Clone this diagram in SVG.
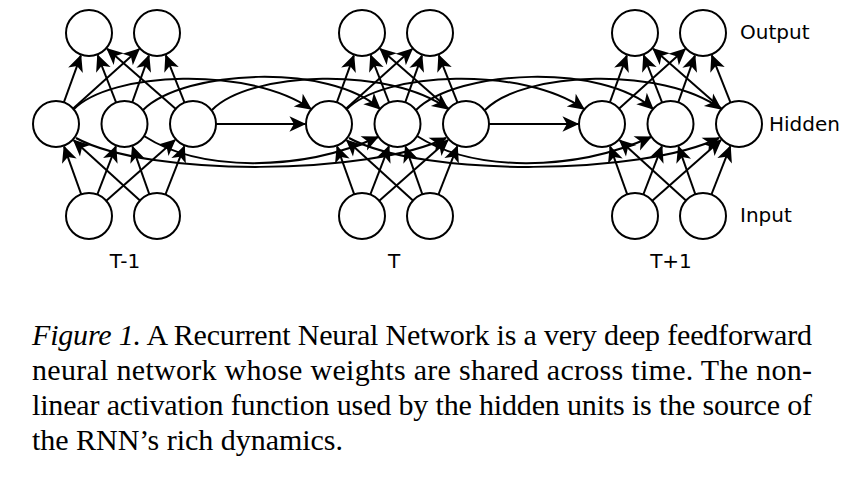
<svg xmlns="http://www.w3.org/2000/svg" width="858" height="494" viewBox="0 0 858 494">
<style>
.node{fill:#fff;stroke:#000;stroke-width:2}
.edge{fill:none;stroke:#000;stroke-width:2;marker-end:url(#arr)}
.lbl{font-family:"DejaVu Sans",sans-serif;font-size:20px;fill:#000}
.cap{font-family:"Liberation Serif","Times New Roman",serif;font-size:30px;fill:#000}
</style>
<defs>
<marker id="arr" markerUnits="userSpaceOnUse" markerWidth="20" markerHeight="20" refX="0" refY="0" viewBox="-16 -9 18 18" orient="auto">
<path d="M1,0 L-14,-7 L-10,0 L-14,7 Z" fill="#000"/>
</marker>
</defs>
<rect width="858" height="494" fill="#fff"/>
<g id="connectors">
<g id="ff-T-1">
<path class="edge" d="M56,124 L80.8,55.6"/><path class="edge" d="M124.5,124 L97.7,55.4"/><path class="edge" d="M193,124 L107.1,48.8"/>
<path class="edge" d="M56,124 L139.2,49.1"/><path class="edge" d="M124.5,124 L148.9,55.6"/><path class="edge" d="M193,124 L165.8,55.3"/>
<path class="edge" d="M89,216 L64.1,146.6"/><path class="edge" d="M157,216 L73.7,140.2"/><path class="edge" d="M89,216 L115.9,146.4"/>
<path class="edge" d="M157,216 L132.5,146.6"/><path class="edge" d="M89,216 L175,139.9"/><path class="edge" d="M157,216 L184.3,146.3"/>
</g>
<g id="ff-T" transform="translate(273,0)">
<path class="edge" d="M56,124 L80.8,55.6"/><path class="edge" d="M124.5,124 L97.7,55.4"/><path class="edge" d="M193,124 L107.1,48.8"/>
<path class="edge" d="M56,124 L139.2,49.1"/><path class="edge" d="M124.5,124 L148.9,55.6"/><path class="edge" d="M193,124 L165.8,55.3"/>
<path class="edge" d="M89,216 L64.1,146.6"/><path class="edge" d="M157,216 L73.7,140.2"/><path class="edge" d="M89,216 L115.9,146.4"/>
<path class="edge" d="M157,216 L132.5,146.6"/><path class="edge" d="M89,216 L175,139.9"/><path class="edge" d="M157,216 L184.3,146.3"/>
</g>
<g id="ff-T+1" transform="translate(546,0)">
<path class="edge" d="M56,124 L80.8,55.6"/><path class="edge" d="M124.5,124 L97.7,55.4"/><path class="edge" d="M193,124 L107.1,48.8"/>
<path class="edge" d="M56,124 L139.2,49.1"/><path class="edge" d="M124.5,124 L148.9,55.6"/><path class="edge" d="M193,124 L165.8,55.3"/>
<path class="edge" d="M89,216 L64.1,146.6"/><path class="edge" d="M157,216 L73.7,140.2"/><path class="edge" d="M89,216 L115.9,146.4"/>
<path class="edge" d="M157,216 L132.5,146.6"/><path class="edge" d="M89,216 L175,139.9"/><path class="edge" d="M157,216 L184.3,146.3"/>
</g>
<g id="rec-T-1-to-T">
<path class="edge" d="M73,110 C110,71 250,66 311,109"/>
<path class="edge" d="M143,110 C185,69 330,63 380,109"/>
<path class="edge" d="M212,110 C250,71 390,66 448,109"/>
<path class="edge" d="M76,138 C150,178 370,175 446,138"/>
<path class="edge" d="M144,136 C200,172 300,172 378,137"/>
<path class="edge" d="M193,124 L305,124"/>
</g>
<g id="rec-T-to-T+1" transform="translate(273,0)">
<path class="edge" d="M73,110 C110,71 250,66 311,109"/>
<path class="edge" d="M143,110 C185,69 330,63 380,109"/>
<path class="edge" d="M212,110 C250,71 390,66 448,109"/>
<path class="edge" d="M76,138 C150,178 370,175 446,138"/>
<path class="edge" d="M144,136 C200,172 300,172 378,137"/>
<path class="edge" d="M193,124 L305,124"/>
</g>
</g>
<g id="nodes">
<g id="out-T-1-1"><circle class="node" cx="89" cy="33" r="23"/></g>
<g id="out-T-1-2"><circle class="node" cx="157" cy="33" r="23"/></g>
<g id="hid-T-1-1"><circle class="node" cx="56" cy="124" r="23"/></g>
<g id="hid-T-1-2"><circle class="node" cx="124.5" cy="124" r="23"/></g>
<g id="hid-T-1-3"><circle class="node" cx="193" cy="124" r="23"/></g>
<g id="in-T-1-1"><circle class="node" cx="89" cy="216" r="23"/></g>
<g id="in-T-1-2"><circle class="node" cx="157" cy="216" r="23"/></g>
<g id="out-T-1"><circle class="node" cx="362" cy="33" r="23"/></g>
<g id="out-T-2"><circle class="node" cx="430" cy="33" r="23"/></g>
<g id="hid-T-1"><circle class="node" cx="329" cy="124" r="23"/></g>
<g id="hid-T-2"><circle class="node" cx="397.5" cy="124" r="23"/></g>
<g id="hid-T-3"><circle class="node" cx="466" cy="124" r="23"/></g>
<g id="in-T-1"><circle class="node" cx="362" cy="216" r="23"/></g>
<g id="in-T-2"><circle class="node" cx="430" cy="216" r="23"/></g>
<g id="out-T+1-1"><circle class="node" cx="635" cy="33" r="23"/></g>
<g id="out-T+1-2"><circle class="node" cx="703" cy="33" r="23"/></g>
<g id="hid-T+1-1"><circle class="node" cx="602" cy="124" r="23"/></g>
<g id="hid-T+1-2"><circle class="node" cx="670.5" cy="124" r="23"/></g>
<g id="hid-T+1-3"><circle class="node" cx="739" cy="124" r="23"/></g>
<g id="in-T+1-1"><circle class="node" cx="635" cy="216" r="23"/></g>
<g id="in-T+1-2"><circle class="node" cx="703" cy="216" r="23"/></g>
</g>
<g id="labels">
<text class="lbl" x="740" y="39">Output</text>
<text class="lbl" x="769" y="131">Hidden</text>
<text class="lbl" x="740" y="222">Input</text>
<text class="lbl" x="125" y="268" text-anchor="middle">T-1</text>
<text class="lbl" x="394" y="268" text-anchor="middle">T</text>
<text class="lbl" x="671" y="268" text-anchor="middle">T+1</text>
</g>
<g id="caption">
<text class="cap" x="32" y="345" textLength="780" lengthAdjust="spacing"><tspan font-style="italic">Figure 1.</tspan> A Recurrent Neural Network is a very deep feedforward</text>
<text class="cap" x="32" y="380" textLength="780" lengthAdjust="spacing">neural network whose weights are shared across time.  The non-</text>
<text class="cap" x="32" y="415" textLength="780" lengthAdjust="spacing">linear activation function used by the hidden units is the source of</text>
<text class="cap" x="32" y="450" textLength="311" lengthAdjust="spacing">the RNN’s rich dynamics.</text>
</g>
</svg>
